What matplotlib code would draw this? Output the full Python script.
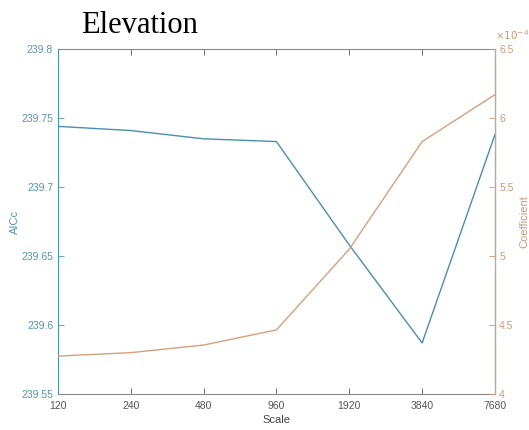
import numpy as np
import matplotlib
matplotlib.use("Agg")
import matplotlib.pyplot as plt

# ----------------------------
# Data
# ----------------------------
scales = ["120", "240", "480", "960", "1920", "3840", "7680"]
aicc = [239.744, 239.741, 239.735, 239.733, 239.658, 239.587, 239.738]
coef = [4.275, 4.30, 4.355, 4.465, 5.05, 5.83, 6.17]   # in units of 1e-4

blue = "#4a8fb0"
orange = "#d6a07c"
blue_txt = "#5a93ad"
orange_txt = "#c99a78"

plt.rcParams["font.family"] = ["Liberation Sans", "DejaVu Sans"]

fig = plt.figure(figsize=(5.29, 4.30), dpi=100)
ax = fig.add_axes([0.1096, 0.0837, 0.826, 0.802])
x = np.arange(len(scales))

ax.plot(x, aicc, color=blue, lw=1.0)
ax.set_xlim(0, len(scales) - 1)
ax.set_ylim(239.55, 239.8)
ax.set_yticks([239.55, 239.6, 239.65, 239.7, 239.75, 239.8])
ax.set_yticklabels(["239.55", "239.6", "239.65", "239.7", "239.75", "239.8"])
ax.set_xticks(x)
ax.set_xticklabels(scales)
ax.set_xlabel("Scale", fontsize=8, color="#444444", labelpad=3)
ax.set_ylabel("AICc", fontsize=8, color=blue_txt, labelpad=1)
ax.tick_params(axis="y", colors=blue_txt, labelsize=7.5, direction="in", length=4, width=0.6)
ax.tick_params(axis="x", colors="#555555", labelsize=7.5, direction="in", length=4, width=0.6,
               top=True, pad=5)
ax.spines["left"].set_color(blue)
ax.spines["top"].set_color("#888888")
ax.spines["bottom"].set_color("#888888")
for s in ax.spines.values():
    s.set_linewidth(0.8)

ax2 = ax.twinx()
ax2.plot(x, coef, color=orange, lw=1.0)
ax2.set_ylim(4, 6.5)
ax2.set_yticks([4, 4.5, 5, 5.5, 6, 6.5])
ax2.set_yticklabels(["4", "4.5", "5", "5.5", "6", "6.5"])
ax2.set_ylabel("Coefficient", fontsize=8, color=orange_txt, labelpad=4)
ax2.tick_params(axis="y", colors=orange_txt, labelsize=7.5, direction="in", length=4, width=0.6, pad=3)
ax2.spines["right"].set_color(orange)
ax2.spines["right"].set_linewidth(0.8)
for k in ["left", "top", "bottom"]:
    ax2.spines[k].set_visible(False)
ax2.text(1.0, 1.02, r"$\times 10^{-4}$", transform=ax2.transAxes, fontsize=7.5,
         color=orange_txt, ha="left", va="bottom")

fig.text(0.263, 0.94, "Elevation", fontsize=22, family="Liberation Serif", ha="center", va="center")

fig.savefig("out.png", dpi=100)
